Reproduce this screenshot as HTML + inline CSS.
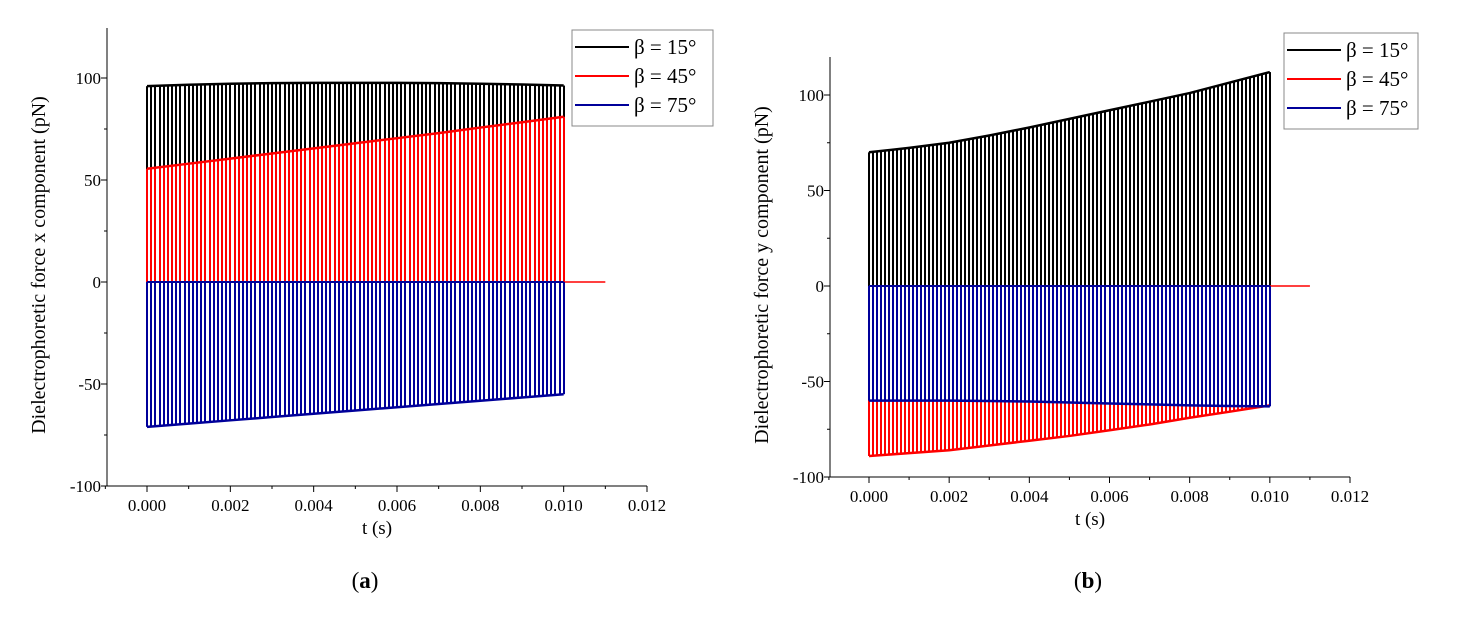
<!DOCTYPE html>
<html><head><meta charset="utf-8"><style>
body{margin:0;background:#fff}
svg text{font-family:"Liberation Serif",serif}
</style></head><body>
<svg id="svg" width="1457" height="616" xmlns="http://www.w3.org/2000/svg"></svg>
<script>
const tKnots=[0,0.001,0.002,0.003,0.004,0.005,0.006,0.007,0.008,0.009,0.010];
const xTicks=["0.000","0.002","0.004","0.006","0.008","0.010","0.012"];
const yTicks=["-100","-50","0","50","100"];
const legendLabels=["β = 15°","β = 45°","β = 75°"];
const aBlack=[96,96.7,97.2,97.5,97.6,97.6,97.6,97.5,97.2,96.8,96.3];
const aRed=[55.5,58,60.5,63,65.5,68,70.5,73,75.7,78.3,81];
const aBlue=[-71,-69.4,-67.8,-66.2,-64.6,-63,-61.4,-59.8,-58.2,-56.6,-55];
const bBlack=[70,72.3,75,78.8,83,87.5,92,96.5,101,106.5,112];
const bRed=[-89,-87.5,-86,-83.5,-81,-78.5,-75.5,-72.5,-69,-65.8,-62.5];
const bBlue=[-60,-60,-60,-60.2,-60.5,-61,-61.5,-62,-62.5,-62.8,-63];
const NS="http://www.w3.org/2000/svg";
const svg=document.getElementById('svg');
function mk(tag,attrs,parent){const e=document.createElementNS(NS,tag);for(const k in attrs)e.setAttribute(k,attrs[k]);(parent||svg).appendChild(e);return e;}
function interp(arr,t){const i=Math.min(9,Math.floor(t/0.001+1e-9));const f=t/0.001-i;return arr[i]+(arr[i+1]-arr[i])*f;}
const cols=["#000000","#ff0000","#00009a"];
function chart(cfg){
 const g=mk('g',{});
 
 
 const X=t=>cfg.x0+(t/0.012)*(cfg.x12-cfg.x0);
 const Y=v=>cfg.y0-v*(cfg.y0-cfg.y100)/100;
 const series=[cfg.black,cfg.red,cfg.blue];
 series.forEach((arr,si)=>{
  const sg=mk('g',{fill:cols[si]},g);
  
  
  for(let k=0;k<=100;k++){const t=k*0.0001;const x=Math.round(X(t))-1;
   const ya=Y(0), yb=Y(interp(arr,t));
   mk('rect',{x:x,y:Math.min(ya,yb),width:2,height:Math.abs(yb-ya)},sg);}
  const pts=tKnots.map((t,i)=>X(t)+','+Y(arr[i])).join(' ');
  const pl=mk('polyline',{points:pts,fill:'none',stroke:cols[si],'stroke-width':2.5},sg);
  
  
  if(si===1){mk('line',{x1:X(0.010),x2:X(0.011),y1:Y(0),y2:Y(0),stroke:cols[1],'stroke-width':1.5},sg);}
  if(si===2){mk('line',{x1:X(0),x2:X(0.010),y1:Y(0),y2:Y(0),stroke:cols[2],'stroke-width':2},sg);}
 });
 const ax=mk('g',{stroke:'#000','stroke-width':1},g);
 
 
 mk('line',{x1:cfg.ax,x2:cfg.ax,y1:cfg.top,y2:Y(-100)},ax);
 mk('line',{x1:cfg.ax,x2:X(0.012),y1:Y(-100),y2:Y(-100)},ax);
 for(let v=-100;v<125;v+=25){mk('line',{x1:cfg.ax-(v%50===0?6:3),x2:cfg.ax,y1:Y(v),y2:Y(v)},ax);}
 for(let k=-1;k<=12;k++){const x=X(k*0.001);mk('line',{x1:x,x2:x,y1:Y(-100),y2:Y(-100)+(k%2===0?6:3)},ax);}
 xTicks.forEach((s,i)=>{const t=mk('text',{x:X(i*0.002),y:Y(-100)+25,'font-size':17,'text-anchor':'middle',fill:'#000'},g);t.textContent=s;
  });
 yTicks.forEach((s,i)=>{const t=mk('text',{x:cfg.ax-6,y:Y(-100+50*i)+6,'font-size':17,'text-anchor':'end',fill:'#000'},g);t.textContent=s;
  });
 const xt=mk('text',{x:(cfg.ax+X(0.012))/2,y:Y(-100)+48,'font-size':19,'text-anchor':'middle',fill:'#000'},g);xt.textContent='t (s)';
 
 const ytx=cfg.ax-62, yty=(cfg.top+Y(-100))/2+8;
 const yt=mk('text',{x:ytx,y:yty,'font-size':20,'text-anchor':'middle',fill:'#000',transform:`rotate(-90 ${ytx} ${yty})`},g);yt.textContent=cfg.ytitle;
 
 const lg=mk('g',{},g);
 mk('rect',{x:cfg.lx,y:cfg.ly,width:cfg.lw,height:96,fill:'#fff',stroke:'#888','stroke-width':1},lg);
 legendLabels.forEach((s,i)=>{const yy=cfg.ly+17+i*29;
  mk('line',{x1:cfg.lx+3,x2:cfg.lx+57,y1:yy,y2:yy,stroke:cols[i],'stroke-width':2},lg);
  const t=mk('text',{x:cfg.lx+62,y:yy+7,'font-size':21,fill:'#000'},lg);t.textContent=s;
  });
 const c=mk('text',{x:cfg.capx,y:588,'font-size':23,'text-anchor':'middle',fill:'#000'},g);
 c.innerHTML='(<tspan font-weight="bold">'+cfg.cap+'</tspan>)';
 
}
chart({name:'chart-a',ax:107,top:28,x0:147,x12:647,y0:282,y100:78,black:aBlack,red:aRed,blue:aBlue,
 ytitle:'Dielectrophoretic force x component (pN)',lx:572,ly:30,lw:141,capx:365,cap:'a'});
chart({name:'chart-b',ax:830,top:57,x0:869,x12:1350,y0:286,y100:95,black:bBlack,red:bRed,blue:bBlue,
 ytitle:'Dielectrophoretic force y component (pN)',lx:1284,ly:33,lw:134,capx:1088,cap:'b'});
</script>
</body></html>
